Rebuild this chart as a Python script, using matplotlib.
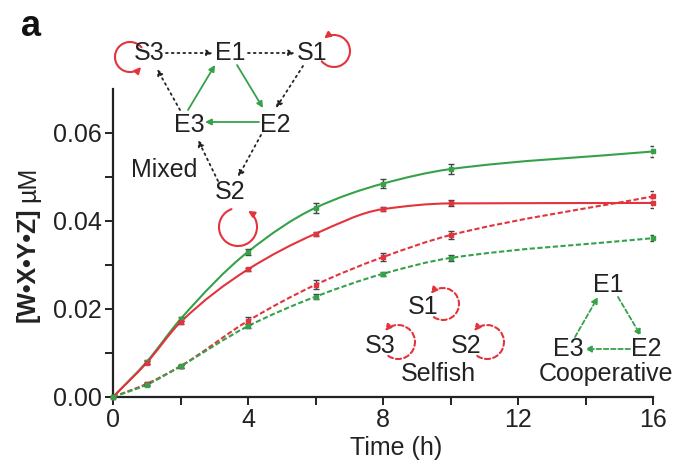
import numpy as np
import matplotlib
matplotlib.use("Agg")
import matplotlib.pyplot as plt
from matplotlib.path import Path
from matplotlib.patches import PathPatch, FancyArrowPatch
from matplotlib.transforms import IdentityTransform

plt.rcParams['font.family'] = ['Liberation Sans', 'DejaVu Sans']

# ---------------- data ----------------
time_h = [0, 1, 2, 4, 6, 8, 10, 16]
mixed_green = [0.0, 0.0080, 0.0177, 0.0330, 0.0430, 0.0485, 0.0518, 0.0558]
mixed_green_err = [0.0, 0.0004, 0.0004, 0.0007, 0.0011, 0.0011, 0.0011, 0.0012]
mixed_red = [0.0, 0.0078, 0.0170, 0.0290, 0.0371, 0.0427, 0.0440, 0.0441]
mixed_red_err = [0.0, 0.0003, 0.0003, 0.0004, 0.0005, 0.0005, 0.0007, 0.0012]
selfish_red = [0.0, 0.0030, 0.0070, 0.0173, 0.0255, 0.0318, 0.0368, 0.0456]
selfish_red_err = [0.0, 0.0003, 0.0003, 0.0008, 0.0010, 0.0010, 0.0010, 0.0013]
coop_green = [0.0, 0.0028, 0.0070, 0.0161, 0.0228, 0.0280, 0.0316, 0.0361]
coop_green_err = [0.0, 0.0003, 0.0003, 0.0005, 0.0005, 0.0005, 0.0006, 0.0007]

x_ticks = [0, 4, 8, 12, 16]
y_ticks = [0.00, 0.02, 0.04, 0.06]
y_ticklabels = ['0.00', '0.02', '0.04', '0.06']

GREEN = '#35a24a'
RED = '#e3333c'
W, H = 675, 473
FS = 18

fig = plt.figure(figsize=(W / 100, H / 100), dpi=100)
ax = fig.add_axes([113 / W, 1 - 397 / H, 540 / W, 308 / H])
ax.set_xlim(0, 16)
ax.set_ylim(0, 0.07)
for s in ['top', 'right']:
    ax.spines[s].set_visible(False)
for s in ['left', 'bottom']:
    ax.spines[s].set_linewidth(1.6)
    ax.spines[s].set_color('#222222')
ax.set_xticks(x_ticks)
ax.set_xticks([2, 6, 10, 14], minor=True)
ax.set_yticks(y_ticks)
ax.set_yticklabels(y_ticklabels)
ax.set_yticks([0.01, 0.03, 0.05], minor=True)
ax.tick_params(which='both', direction='out', length=6, width=1.4, color='#222222',
               labelsize=FS, labelcolor='#222222', pad=2)
ax.set_facecolor('none')


def smooth_path(x, y):
    x = np.asarray(x, float)
    y = np.asarray(y, float)
    h = np.diff(x)
    d = np.diff(y) / h
    n = len(x)
    m = np.zeros(n)
    m[0] = d[0]
    m[-1] = d[-1]
    for k in range(1, n - 1):
        if d[k - 1] * d[k] <= 0:
            m[k] = 0
        else:
            w1 = 2 * h[k] + h[k - 1]
            w2 = h[k] + 2 * h[k - 1]
            m[k] = (w1 + w2) / (w1 / d[k - 1] + w2 / d[k])
    verts = [(x[0], y[0])]
    codes = [Path.MOVETO]
    for k in range(n - 1):
        verts += [(x[k] + h[k] / 3, y[k] + m[k] * h[k] / 3),
                  (x[k + 1] - h[k] / 3, y[k + 1] - m[k + 1] * h[k] / 3),
                  (x[k + 1], y[k + 1])]
        codes += [Path.CURVE4] * 3
    return Path(verts, codes)


series = [
    (mixed_green, mixed_green_err, GREEN, '-'),
    (mixed_red, mixed_red_err, RED, '-'),
    (selfish_red, selfish_red_err, RED, (0, (2.5, 1.2))),
    (coop_green, coop_green_err, GREEN, (0, (2.5, 1.2))),
]
for vals, errs, col, ls in series:
    ax.add_patch(PathPatch(smooth_path(time_h, vals), fill=False, edgecolor=col,
                           lw=1.5, linestyle=ls, zorder=3))
    ax.errorbar(time_h, vals, yerr=errs, fmt='none', ecolor='#444444', elinewidth=1.0,
                capsize=2.5, capthick=1.0, zorder=4)
    ax.plot(time_h, vals, 's', ms=3.5, color=col, zorder=5, clip_on=False)

# labels
fig.text(396 / W, 1 - 448 / H, 'Time (h)', ha='center', va='center', fontsize=FS,
         color='#222222')
fig.text(28 / W, 1 - 322 / H, '[W\u2022X\u2022Y\u2022Z]', rotation=90, ha='center',
         va='bottom', fontsize=FS, fontweight='bold', color='#222222')
fig.text(28 / W, 1 - 202 / H, '\u00b5M', rotation=90, ha='center', va='bottom',
         fontsize=FS, color='#222222')
fig.text(31 / W, 1 - 27 / H, 'a', ha='center', va='center', fontsize=26,
         fontweight='bold', color='#111111')


def P(x, y):
    return (x / W, 1 - y / H)


def label(x, y, s):
    fig.text(x / W, 1 - y / H, s, ha='center', va='center', fontsize=FS, color='#222222')


def arrow(p0, p1, color, ls, lw=1.3):
    ax.annotate('', xy=P(*p1), xytext=P(*p0), xycoords='figure fraction',
                textcoords='figure fraction', annotation_clip=False,
                arrowprops=dict(arrowstyle='-|>', color=color, lw=lw, linestyle=ls,
                                mutation_scale=9, shrinkA=0, shrinkB=0))


def loop(cx, cy, r, t1, t2, color, ls):
    p = Path.arc(t1, t2)
    verts = p.vertices * r + np.array([cx, H - cy])
    path = Path(verts, p.codes)
    fa = FancyArrowPatch(path=path, arrowstyle='-|>', mutation_scale=9, color=color,
                         lw=1.5, linestyle=ls, transform=IdentityTransform())
    fig.add_artist(fa)


DOT = (0, (1, 2.2))
# Mixed network
for x, y, s in [(149, 53, 'S3'), (230, 53, 'E1'), (312, 53, 'S1'), (189, 125, 'E3'),
                (275, 125, 'E2'), (164, 170, 'Mixed'), (230, 192, 'S2')]:
    label(x, y, s)
arrow((166, 53), (213, 53), '#222222', DOT)
arrow((248, 53), (295, 53), '#222222', DOT)
arrow((303, 66), (276, 108), '#222222', DOT)
arrow((261, 135), (238, 177), '#222222', DOT)
arrow((218, 181), (198, 140), '#222222', DOT)
arrow((180, 110), (157, 69), '#222222', DOT)
arrow((188, 110), (215, 65), GREEN, '-')
arrow((237, 65), (263, 108), GREEN, '-')
arrow((259, 122), (205, 122), GREEN, '-')
loop(130, 57, 15, 40, 318, RED, '-')
loop(334, 51, 16, -140, 128, RED, '-')
loop(238, 227, 19, 110, 418, RED, '-')

# Selfish network
DASH = (0, (2.5, 1.5))
for x, y, s in [(423, 307, 'S1'), (380, 346, 'S3'), (466, 346, 'S2'), (438, 374, 'Selfish')]:
    label(x, y, s)
loop(443, 304, 16, -125, 140, RED, DASH)
loop(398, 342, 17, -125, 140, RED, DASH)
loop(487, 342, 17, -125, 140, RED, DASH)

# Cooperative network
for x, y, s in [(608, 285, 'E1'), (568, 349, 'E3'), (646, 349, 'E2'),
                (606, 374, 'Cooperative')]:
    label(x, y, s)
arrow((575, 337), (598, 297), GREEN, DASH)
arrow((618, 297), (641, 336), GREEN, DASH)
arrow((630, 349), (585, 349), GREEN, DASH)

fig.savefig('out.png', dpi=100)
